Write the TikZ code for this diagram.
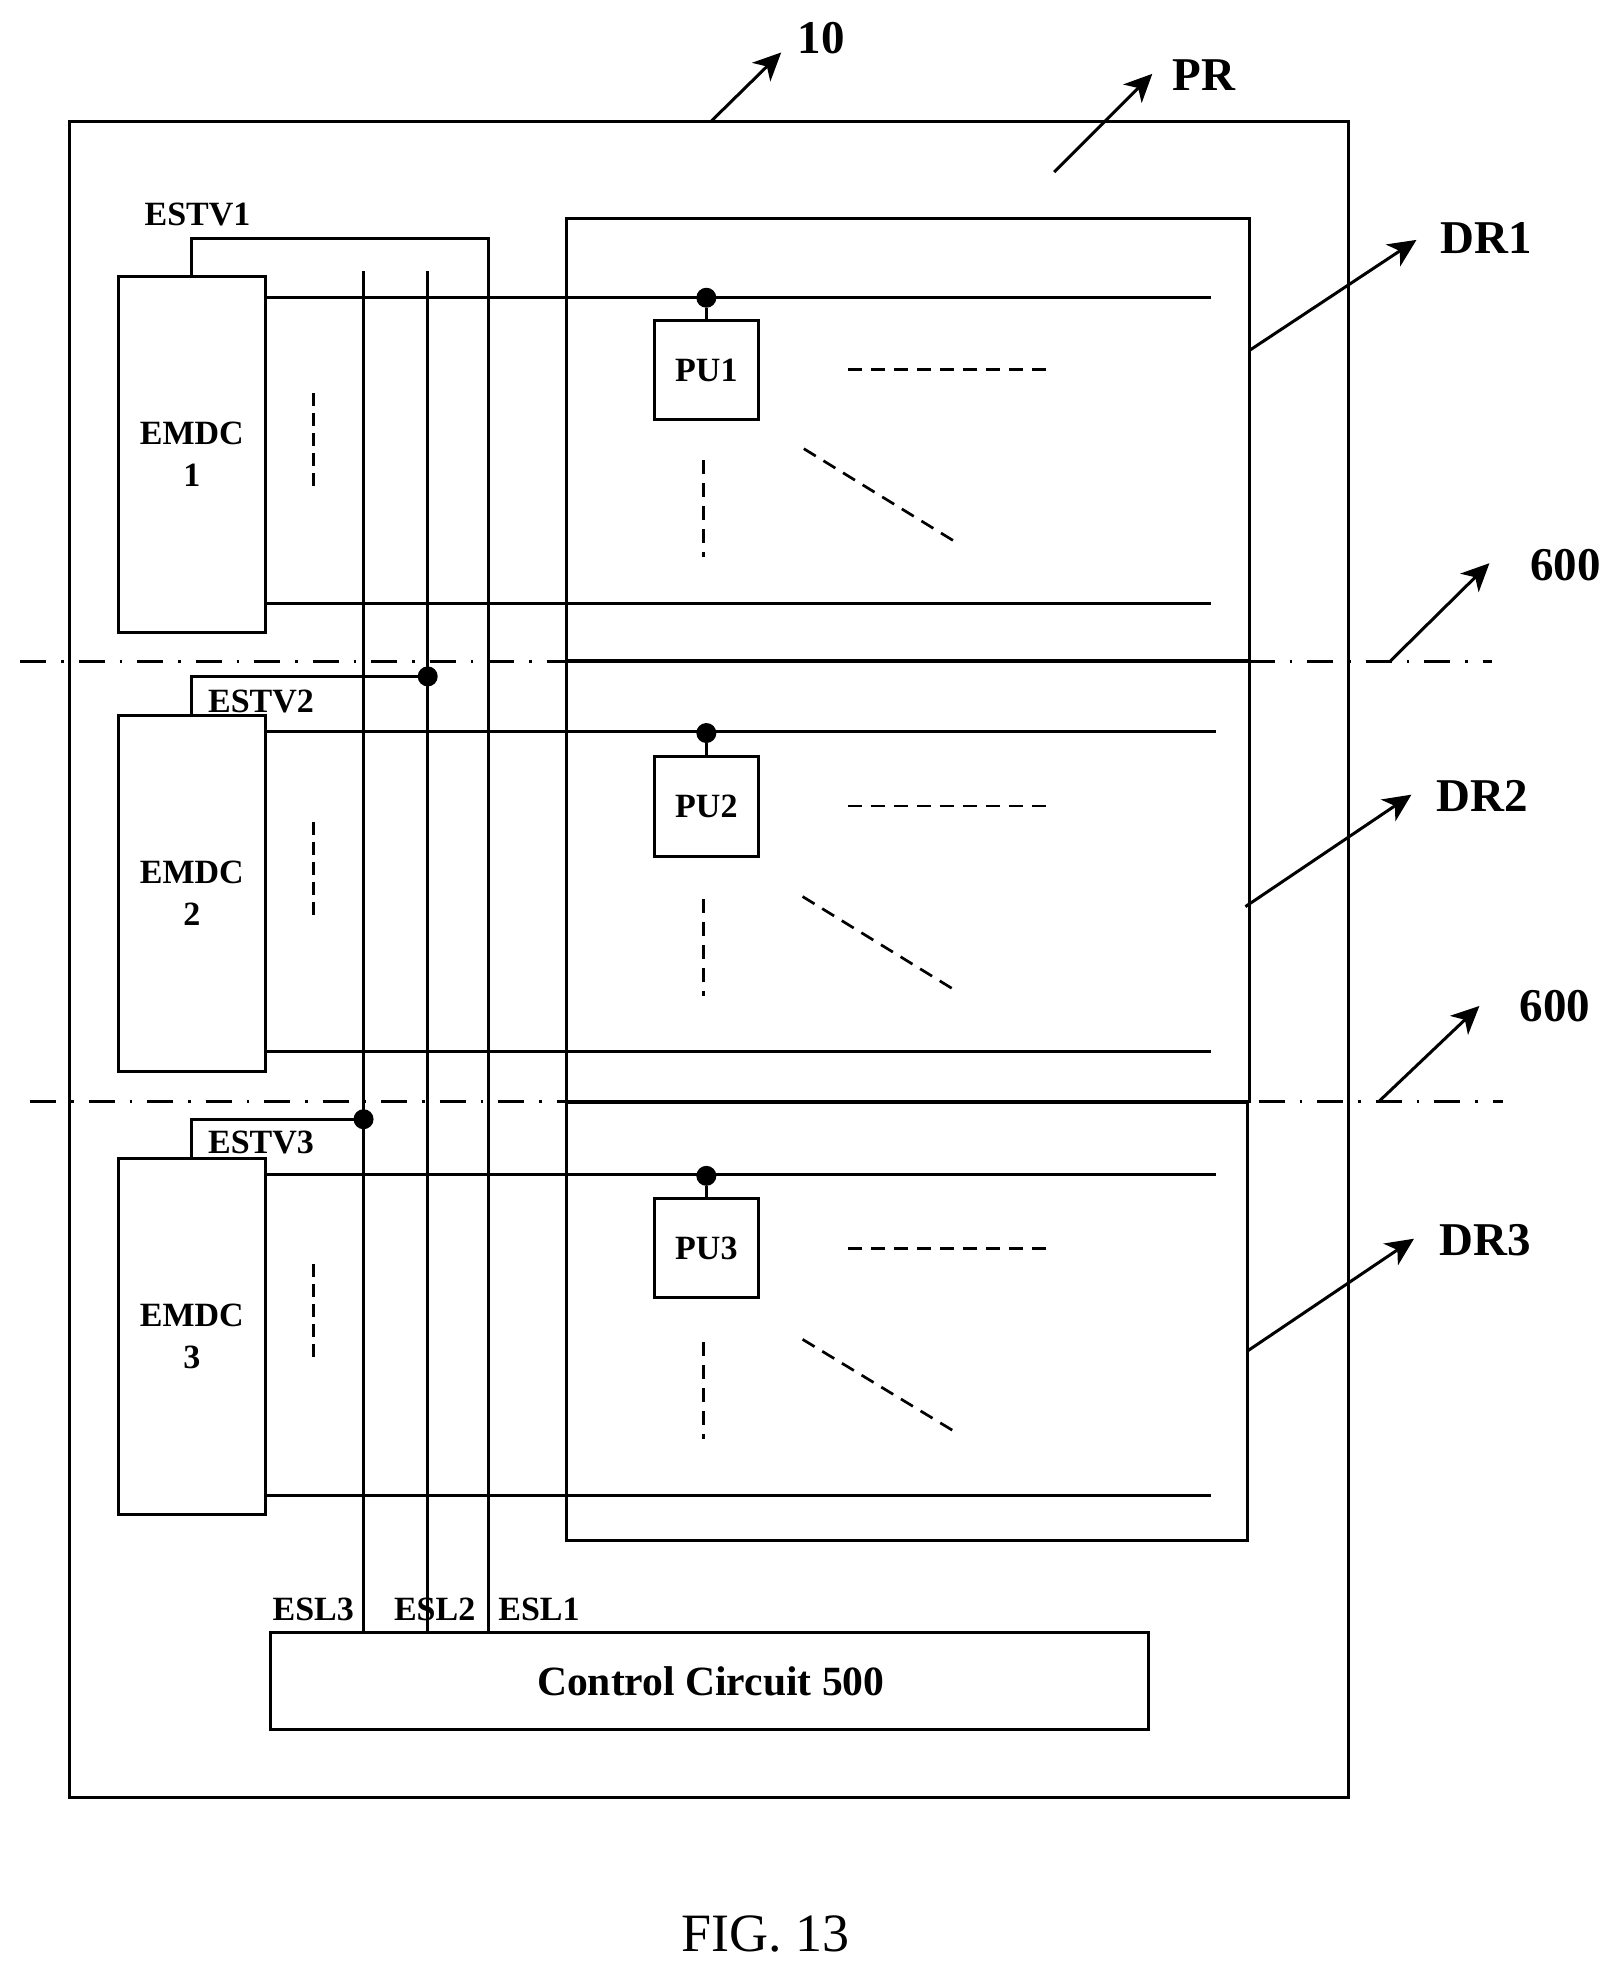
\documentclass[tikz,border=0pt]{standalone}
\usepackage{fontspec}
\setmainfont{Liberation Serif}
\usetikzlibrary{arrows.meta}
\newcommand{\boxn}[6]{%
  \pgfmathsetmacro{\bw}{(#4-#2)*1.258}\pgfmathsetmacro{\bh}{(#5-#3)*1.258}%
  \node[blk,minimum width=\bw pt,minimum height=\bh pt] (#1) at ({(#2+#4)/2},{(#3+#5)/2}) {#6};}
\newcommand{\lowtxt}[1]{\raisebox{-1.3pt}{#1}}
\tikzset{
  blk/.style={draw,line width=3pt,inner sep=0pt,outer sep=0pt,align=center,font=\fontsize{34}{42}\selectfont\bfseries},
  wire/.style={line width=3pt},
  bold line/.style={line width=4pt},
  vline/.style={line width=2.7pt},
  dashline/.style={line width=2.7pt,dash pattern=on 14pt off 9pt},
  shortdash/.style={line width=3pt,dash pattern=on 13pt off 7pt},
  centerline/.style={line width=2.8pt,dash pattern=on 26pt off 15pt on 2.5pt off 15pt},
  arr/.style={line width=3pt,-{Stealth[length=28pt,width=26pt,inset=8pt]}},
  sml/.style={font=\fontsize{34}{42}\selectfont\bfseries,inner sep=0pt},
  big/.style={font=\fontsize{47}{56}\selectfont\bfseries,inner sep=0pt},
  jn/.style={circle,fill=black,draw=none,minimum size=20pt,inner sep=0pt,outer sep=0pt},
}
\begin{document}
\begin{tikzpicture}[x=1.258pt,y=-1.258pt]
\useasboundingbox (0,-0.7) rectangle (1290.1,1568.5);
% outer and regions
\boxn{outer}{55}{96}{1072}{1428}{}
\boxn{dra}{450}{173}{993}{525}{}
\boxn{drb}{450}{525}{993}{875}{}
\boxn{drc}{450}{875}{992}{1224}{}
% drivers
\boxn{emdca}{94}{219}{211}{502}{\lowtxt{EMDC}\\\lowtxt{1}}
\boxn{emdcb}{94}{568}{211}{851}{\lowtxt{EMDC}\\\lowtxt{2}}
\boxn{emdcc}{94}{920}{211}{1203}{\lowtxt{EMDC}\\\lowtxt{3}}
\boxn{control}{215}{1297}{913}{1374}{\fontsize{41.6}{50}\selectfont\hspace*{2.5pt}Control Circuit 500}
% pixel units
\boxn{pua}{520}{254}{603}{333}{PU1}
\boxn{pub}{520}{601}{603}{680}{PU2}
\boxn{puc}{520}{952}{603}{1031}{PU3}
% row lines
\foreach \n/\e/\yy/\xx in {ra/emdca/236/963,rb/emdca/479/963,rc/emdcb/581/967,rd/emdcb/835/963,re/emdcc/933/967,rf/emdcc/1188/963}{
  \coordinate (\n) at (\xx,\yy);
  \draw[wire] (\e.east |- \n) -- (\n);
}
% junctions on the first rows
\node[jn] (ja) at (561.5,236) {};
\node[jn] (jb) at (561.5,582) {};
\node[jn] (jc) at (561.5,934) {};
\draw[wire] (ja) -- (pua.north);
\draw[wire] (jb) -- (pub.north);
\draw[wire] (jc) -- (puc.north);
% scan lines
\coordinate (eslatop) at (388,189);
\coordinate (eslbtop) at (340,215);
\coordinate (eslctop) at (289,215);
\node[jn] (jd) at (340,537) {};
\node[jn] (je) at (289,889) {};
\draw[wire] (emdca.north) |- (eslatop) -- (eslatop |- control.north);
\draw[vline] (eslbtop) -- (eslbtop |- control.north);
\draw[vline] (eslctop) -- (eslctop |- control.north);
\draw[wire] (emdcb.north) |- (jd);
\draw[wire] (emdcc.north) |- (je);
% separators
\coordinate (sa1) at (16,525); \coordinate (sa2) at (1186,525);
\coordinate (sb1) at (24,875); \coordinate (sb2) at (1195,875);
\draw[centerline] (sa1) -- (sa2);
\draw[centerline] (sb1) -- (sb2);
\draw[bold line] (dra.south west) -- (dra.south east);
\draw[bold line] (drb.south west) -- (drb.south east);
% dashes
\foreach \x/\ya/\yb in {249/312/388,249/653/729,249/1004/1080}{
  \coordinate (va) at (\x,\ya); \coordinate (vb) at (\x,\yb);
  \draw[shortdash] (va) -- (vb);}
\foreach \ya/\yb/\xh/\xi/\xj/\xk in {
  293/365/639/356/761/431,
  640/714/638/712/760/787,
  992/1066/638/1064/760/1138}{
  \coordinate (ha) at (674,\ya); \coordinate (hb) at (832,\ya);
  \draw[dashline] (ha) -- (hb);
  \coordinate (va) at (559.5,\yb); \coordinate (vb) at (559.5,\yb+77);
  \draw[dashline] (va) -- (vb);
  \coordinate (da) at (\xh,\xi); \coordinate (db) at (\xj,\xk);
  \draw[dashline] (da) -- (db);
}
% leader arrows and reference labels
\coordinate (ta) at (565,96);  \coordinate (tb) at (621,41);
\coordinate (tc) at (838,136); \coordinate (td) at (916,58);
\coordinate (te) at (993,278); \coordinate (tf) at (1126,190);
\coordinate (tg) at (990,720); \coordinate (th) at (1122,631);
\coordinate (ti) at (992,1073);\coordinate (tj) at (1124,984);
\coordinate (tk) at (1105,525);\coordinate (tl) at (1184,447);
\coordinate (tm) at (1096,875);\coordinate (tn) at (1176,799);
\draw[arr] (ta) -- (tb);
\draw[arr] (tc) -- (td);
\draw[arr] (te) -- (tf);
\draw[arr] (tg) -- (th);
\draw[arr] (ti) -- (tj);
\draw[arr] (tk) -- (tl);
\draw[arr] (tm) -- (tn);
\node[big] (lten) at (653,29.8) {10};
\node[big] (lpr) at (957,58.8) {PR};
\node[big] (ldra) at (1181.5,188.8) {DR1};
\node[big] (ldrb) at (1178.5,631.8) {DR2};
\node[big] (ldrc) at (1181,984.8) {DR3};
\node[big] (lsa) at (1244.3,448.8) {600};
\node[big] (lsb) at (1236.3,798.8) {600};
\node[sml] (lva) at (157,169.8) {ESTV1};
\node[sml] (lvb) at (207.5,556.8) {ESTV2};
\node[sml] (lvc) at (207.5,907.8) {ESTV3};
\node[sml] (lsc) at (249,1278.5) {ESL3};
\node[sml] (lsd) at (345.5,1278.5) {ESL2};
\node[sml] (lse) at (428.5,1278.5) {ESL1};
\node[inner sep=0pt,font=\fontsize{54}{64}\selectfont] (cap) at (608.5,1536.5) {FIG. 13};
\end{tikzpicture}
\end{document}
